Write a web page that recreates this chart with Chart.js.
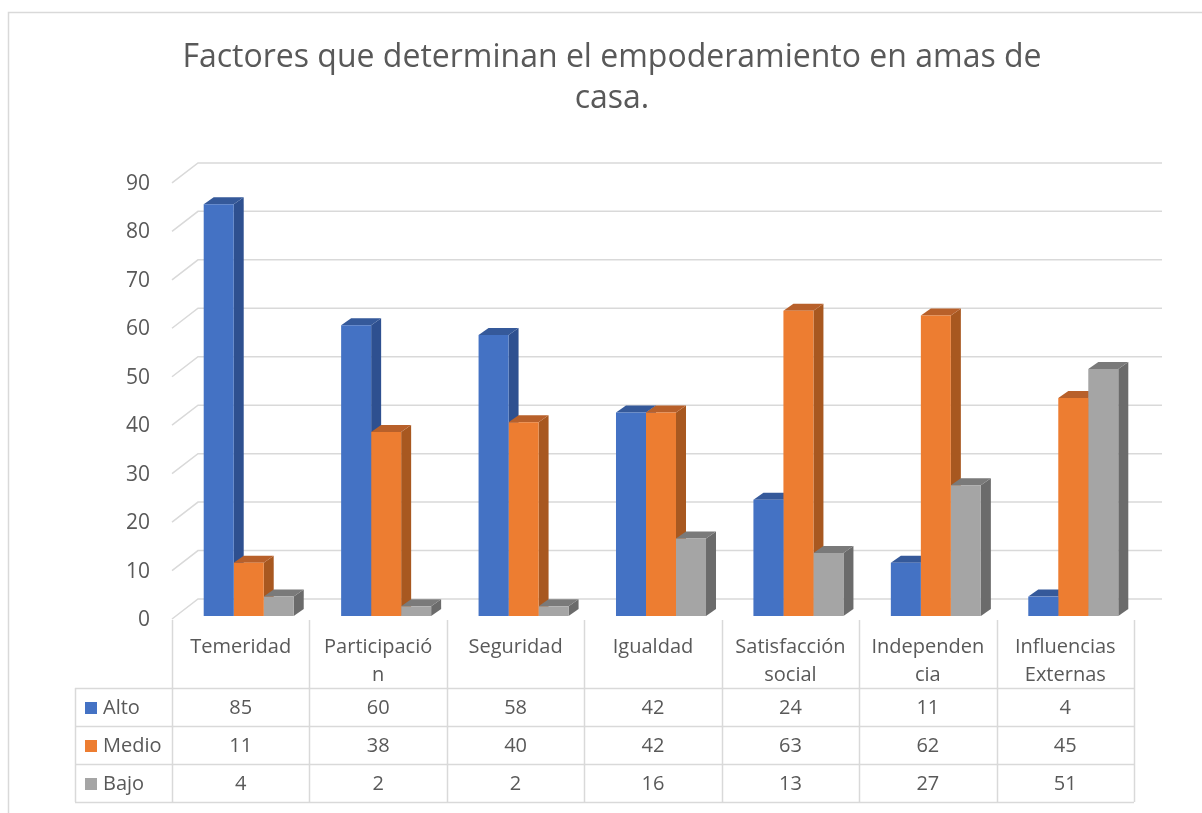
<!DOCTYPE html>
<html>
<head>
<meta charset="utf-8">
<script src="https://cdn.jsdelivr.net/npm/chart.js@4.4.1/dist/chart.umd.min.js"></script>
<style>
  html, body { margin: 0; padding: 0; background: #fff; overflow: hidden; }
  #wrap { position: relative; width: 1224px; height: 813px; }
</style>
</head>
<body>
<div id="wrap"><canvas id="chart" width="1224" height="813"></canvas></div>
<script>
  // data
  const CATEGORIES = [
    ['Temeridad'], ['Participació', 'n'], ['Seguridad'], ['Igualdad'],
    ['Satisfacción', 'social'], ['Independen', 'cia'], ['Influencias', 'Externas']
  ];
  const ALTO  = [85, 60, 58, 42, 24, 11, 4];
  const MEDIO = [11, 38, 40, 42, 63, 62, 45];
  const BAJO  = [4, 2, 2, 16, 13, 27, 51];
  const SERIES = ['Alto', 'Medio', 'Bajo'];
  const Y_TICKS = [0, 10, 20, 30, 40, 50, 60, 70, 80, 90];

  const FRONT = ['#4472C4', '#ED7D31', '#A5A5A5'];
  const SIDE  = ['#2E5090', '#A85820', '#6B6B6B'];
  const TOP   = ['#35599A', '#B8602A', '#7A7A7A'];
  const TEXT = '#595959';
  const LINE = '#D9D9D9';
  const FONT = '"Open Sans", "Noto Sans", sans-serif';

  const DX = 10, DY = 7;         // bar depth
  const WX = 26, WY = 17;        // back-wall offset
  const SHIFT = 8;               // bars sit mid-depth

  const threeD = {
    id: 'threeD',
    beforeDraw(chart) {
      const ctx = chart.ctx;
      ctx.save();
      ctx.strokeStyle = LINE;
      ctx.lineWidth = 1.5;
      ctx.strokeRect(8.5, 12.5, 1220, 820);
      ctx.restore();
    },
    beforeDatasetsDraw(chart) {
      const ctx = chart.ctx, area = chart.chartArea, y = chart.scales.y;
      // back wall gridlines + diagonal ticks
      ctx.save();
      ctx.strokeStyle = LINE;
      ctx.lineWidth = 1.5;
      Y_TICKS.forEach(v => {
        const py = y.getPixelForValue(v);
        ctx.beginPath();
        ctx.moveTo(area.left, py + 3);
        ctx.lineTo(area.left + WX, py - WY);
        ctx.lineTo(area.right + WX + 2, py - WY);
        ctx.stroke();
      });
      ctx.restore();

      ctx.save();
      ctx.translate(SHIFT, 0);
      const metas = chart.data.datasets.map((d, i) => chart.getDatasetMeta(i));
      for (let c = 0; c < CATEGORIES.length; c++) {
        metas.forEach((meta, s) => {
          const b = meta.data[c];
          const p = b.getProps(['x', 'y', 'base', 'width'], true);
          const l = p.x - p.width / 2, r = p.x + p.width / 2;
          ctx.fillStyle = SIDE[s];
          ctx.beginPath();
          ctx.moveTo(r, p.y); ctx.lineTo(r + DX, p.y - DY);
          ctx.lineTo(r + DX, p.base - DY); ctx.lineTo(r, p.base);
          ctx.closePath(); ctx.fill();
          ctx.fillStyle = TOP[s];
          ctx.beginPath();
          ctx.moveTo(l, p.y); ctx.lineTo(l + DX, p.y - DY);
          ctx.lineTo(r + DX, p.y - DY); ctx.lineTo(r, p.y);
          ctx.closePath(); ctx.fill();
        });
      }
    },
    afterDatasetsDraw(chart) {
      chart.ctx.restore();
    },
    afterDraw(chart) {
      // data table below the plot
      const ctx = chart.ctx, x = chart.scales.x;
      const left = x.left, right = x.right;
      const cw = (right - left) / CATEGORIES.length;
      const rows = [688, 726, 764, 802];
      ctx.save();
      ctx.strokeStyle = LINE;
      ctx.lineWidth = 1.5;
      ctx.beginPath();
      for (let i = 0; i <= CATEGORIES.length; i++) {
        const px = Math.round(left + i * cw) + 0.5;
        ctx.moveTo(px, 620); ctx.lineTo(px, rows[3]);
      }
      ctx.moveTo(75.5, rows[0]); ctx.lineTo(75.5, rows[3]);
      rows.forEach(ry => { ctx.moveTo(75, ry + 0.5); ctx.lineTo(right, ry + 0.5); });
      ctx.stroke();

      ctx.font = '20px ' + FONT;
      ctx.fillStyle = TEXT;
      ctx.textBaseline = 'middle';
      chart.data.datasets.forEach((ds, s) => {
        const cy = (rows[s] + rows[s + 1]) / 2 + 1;
        ctx.fillStyle = FRONT[s];
        ctx.fillRect(85, cy - 6, 12, 12);
        ctx.fillStyle = TEXT;
        ctx.textAlign = 'left';
        ctx.fillText(ds.label, 103, cy);
        ctx.textAlign = 'center';
        ds.data.forEach((v, c) => ctx.fillText(String(v), x.getPixelForValue(c), cy));
      });
      ctx.restore();
    }
  };

  new Chart(document.getElementById('chart'), {
    type: 'bar',
    data: {
      labels: CATEGORIES,
      datasets: [
        { label: SERIES[0], data: ALTO, backgroundColor: FRONT[0] },
        { label: SERIES[1], data: MEDIO, backgroundColor: FRONT[1] },
        { label: SERIES[2], data: BAJO, backgroundColor: FRONT[2] },
      ],
    },
    options: {
      responsive: false,
      animation: false,
      devicePixelRatio: 1,
      layout: { padding: 0 },
      datasets: { bar: { barPercentage: 1, categoryPercentage: 0.655, clip: false } },
      plugins: {
        legend: { display: false },
        tooltip: { enabled: false },
        title: {
          display: true,
          text: ['Factores que determinan el empoderamiento en amas de', 'casa.'],
          color: TEXT,
          font: { family: FONT, size: 32, weight: 'normal', lineHeight: 1.28 },
          padding: { top: 37, bottom: 61 },
        },
      },
      scales: {
        x: {
          grid: { display: false, drawTicks: false },
          border: { display: false },
          ticks: {
            color: TEXT, font: { family: FONT, size: 20, lineHeight: 1.4 },
            padding: 17, maxRotation: 0, autoSkip: false,
          },
          afterFit(scale) { scale.height = 197; },
        },
        y: {
          min: 0, max: 90,
          grid: { display: false, drawTicks: false },
          border: { display: false },
          ticks: { stepSize: 10, color: TEXT, font: { family: FONT, size: 21 }, padding: 22, labelOffset: 4 },
          afterFit(scale) { scale.width = 172; },
        },
        // empty right-hand spacer keeps the plot narrower than the title box
        spacer: {
          position: 'right',
          grid: { display: false, drawTicks: false },
          border: { display: false },
          ticks: { display: false },
          afterFit(scale) { scale.width = 90; },
        },
      },
    },
    plugins: [threeD],
  });
</script>
</body>
</html>
